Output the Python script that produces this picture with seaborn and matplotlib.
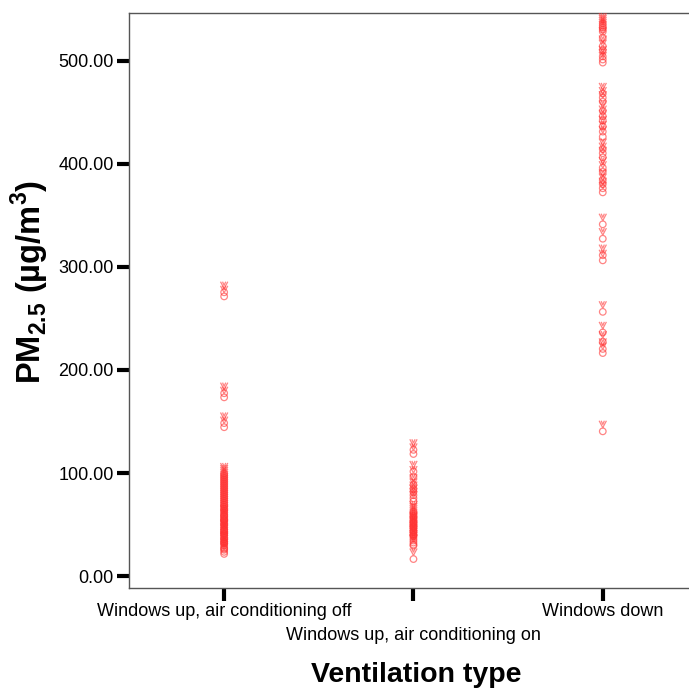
import numpy as np
import pandas as pd
import matplotlib
matplotlib.use("Agg")
import matplotlib.pyplot as plt
import matplotlib.transforms as mtransforms
from matplotlib.path import Path
import seaborn as sns

categories = ["Windows up, air conditioning off",
              "Windows up, air conditioning on",
              "Windows down"]

ac_off = [279, 275, 181, 177, 152, 148,
          103, 101, 99, 97, 95, 93, 91, 89, 87, 85, 83, 81, 79, 77, 75, 73,
          71, 69, 67, 65, 63, 61, 59, 57, 55, 53, 51, 49, 47, 45, 43, 41,
          39, 37, 35, 33, 31, 29, 27, 25, 62, 58, 48, 44, 36, 30]
ac_on = [126, 122, 105, 100, 92, 88, 85, 82, 79, 76,
         66, 64, 62, 60, 58, 56, 54, 52, 50, 48, 46, 44, 42, 40, 38, 36,
         34, 33, 55, 51, 47, 43, 20]
win_down = [540, 538, 536, 534, 532, 526, 518, 514, 508, 505, 502,
            472, 468, 464, 455, 450, 446, 440, 435, 430, 418, 414, 410,
            400, 396, 388, 384, 380, 376, 345, 331, 315, 310, 260, 240,
            231, 224, 220, 144]

yticks = [0, 100, 200, 300, 400, 500]
ytick_labels = ["0.00", "100.00", "200.00", "300.00", "400.00", "500.00"]

df = pd.DataFrame({
    "type": [categories[0]] * len(ac_off) + [categories[1]] * len(ac_on)
            + [categories[2]] * len(win_down),
    "pm": ac_off + ac_on + win_down,
})

sns.set_theme(style="white")
plt.rcParams["font.family"] = ["Liberation Sans", "DejaVu Sans"]
plt.rcParams["mathtext.fontset"] = "custom"
plt.rcParams["mathtext.rm"] = "Liberation Sans"
plt.rcParams["mathtext.bf"] = "Liberation Sans:bold"

# custom marker: small circle with a "V" on top
circ = Path.circle(center=(0, -0.5), radius=0.45)
vee = Path([(-0.5, 0.95), (0.0, 0.0), (0.5, 0.95)],
           [Path.MOVETO, Path.LINETO, Path.LINETO])
vee2 = Path([(-0.22, 0.95), (0.0, 0.45), (0.22, 0.95)],
            [Path.MOVETO, Path.LINETO, Path.LINETO])
marker_path = Path.make_compound_path(circ, vee, vee2)

fig = plt.figure(figsize=(6.89, 6.88), dpi=100)
ax = fig.add_axes([129 / 689, 100 / 688, 560 / 689, 575 / 688])

sns.stripplot(data=df, x="type", y="pm", order=categories, jitter=False,
              marker=marker_path, size=10, ax=ax, color="#ff3030")
for coll in ax.collections:
    coll.set_facecolor("none")
    coll.set_edgecolor((1.0, 0.2, 0.2, 0.6))
    coll.set_linewidth(0.9)

ax.set_xlim(-0.5026, 2.4555)
ax.set_ylim(-11.65, 546.6)
ax.set_yticks(yticks)
ax.set_yticklabels(ytick_labels, fontsize=13)
ax.set_xticks([0, 1, 2])
ax.set_xticklabels(categories, fontsize=13)

for s in ["left", "bottom", "top"]:
    ax.spines[s].set_visible(True)
    ax.spines[s].set_color("#555555")
    ax.spines[s].set_linewidth(1.0)
ax.spines["right"].set_visible(False)

ax.tick_params(axis="both", which="major", direction="out", length=9,
               width=3, color="black", labelcolor="black", pad=2,
               bottom=True, left=True)

# stagger middle category label
lbl = ax.get_xticklabels()[1]
lbl.set_transform(lbl.get_transform() +
                  mtransforms.ScaledTranslation(0, -0.24, fig.dpi_scale_trans))

ax.set_ylabel(r"PM$_{\mathbf{2.5}}$ (µg/m$^{\mathbf{3}}$)", fontsize=23.5,
              fontweight="bold", color="black")
ax.yaxis.set_label_coords(-0.14, 0.532)
ax.set_xlabel("Ventilation type", fontsize=20.5, fontweight="bold",
              color="black")
ax.xaxis.set_label_coords(0.513, -0.128)
ax.xaxis.label.set_va("top")

fig.savefig("out.png", dpi=100)
